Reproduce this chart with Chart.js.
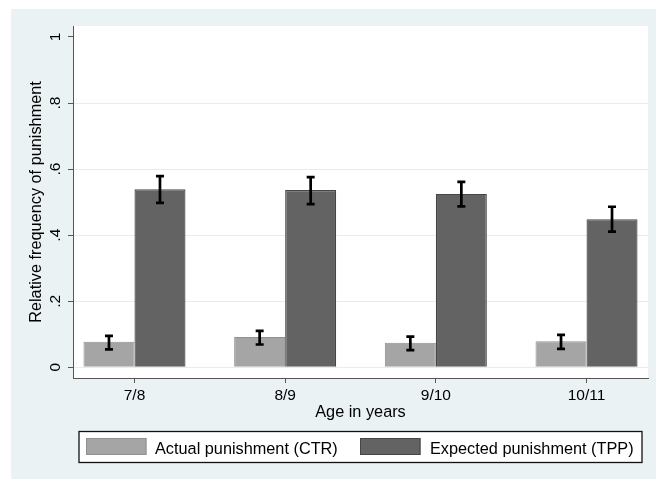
<!DOCTYPE html>
<html><head><meta charset="utf-8">
<script src="https://cdn.jsdelivr.net/npm/chart.js@4.4.0/dist/chart.umd.min.js"></script>
<style>html,body{margin:0;padding:0;background:#fff}#wrap{width:656px;height:479px;position:relative}</style>
</head><body><div id="wrap"><canvas id="c" width="656" height="479"></canvas></div>
<script>
const categories = ['7/8', '8/9', '9/10', '10/11'];
const yTicks = [0, 0.2, 0.4, 0.6, 0.8, 1];
const yTickLabels = ['0', '.2', '.4', '.6', '.8', '1'];
const seriesNames = ['Actual punishment (CTR)', 'Expected punishment (TPP)'];
const ctrValues = [0.077, 0.092, 0.074, 0.079];
const ctrLow = [0.054, 0.069, 0.052, 0.056];
const ctrHigh = [0.095, 0.110, 0.093, 0.098];
const tppValues = [0.539, 0.537, 0.525, 0.4485];
const tppLow = [0.498, 0.494, 0.487, 0.411];
const tppHigh = [0.579, 0.576, 0.5615, 0.486];

const FONT = "'Liberation Sans', Arial, sans-serif";
const lightFill = '#a5a5a5', lightBorder = '#909090';
const darkFill = '#636363', darkBorder = '#454545';

const bgPlugin = {
  id: 'bg',
  beforeDraw(chart) {
    const ctx = chart.ctx, a = chart.chartArea;
    ctx.save();
    ctx.fillStyle = '#eaf2f3';
    ctx.fillRect(11, 9, chart.width - 11, chart.height - 9);
    ctx.fillStyle = '#ffffff';
    ctx.fillRect(a.left, a.top, a.right - a.left, a.bottom - a.top);
    ctx.restore();
  }
};

const errPlugin = {
  id: 'errbars',
  afterDatasetsDraw(chart) {
    const ctx = chart.ctx, ys = chart.scales.y;
    [[ctrLow, ctrHigh], [tppLow, tppHigh]].forEach((pair, di) => {
      const meta = chart.getDatasetMeta(di);
      meta.data.forEach((el, j) => {
        const x = el.x;
        const y0 = ys.getPixelForValue(pair[0][j]);
        const y1 = ys.getPixelForValue(pair[1][j]);
        ctx.save();
        ctx.strokeStyle = '#000';
        ctx.lineWidth = 2.7;
        ctx.lineCap = 'butt';
        ctx.beginPath();
        ctx.moveTo(x, y0); ctx.lineTo(x, y1);
        ctx.moveTo(x - 4, y0); ctx.lineTo(x + 4, y0);
        ctx.moveTo(x - 4, y1); ctx.lineTo(x + 4, y1);
        ctx.stroke();
        ctx.restore();
      });
    });
  }
};

const legendPlugin = {
  id: 'legendbox',
  afterDraw(chart) {
    const ctx = chart.ctx;
    ctx.save();
    ctx.fillStyle = '#fff';
    ctx.fillRect(79, 431.5, 563, 31);
    ctx.strokeStyle = '#111';
    ctx.lineWidth = 1.3;
    ctx.strokeRect(79, 431.5, 563, 31);
    const items = [
      {sx: 86, tx: 155, fill: lightFill, border: lightBorder, text: seriesNames[0]},
      {sx: 360, tx: 430, fill: darkFill, border: darkBorder, text: seriesNames[1]}
    ];
    items.forEach(it => {
      ctx.fillStyle = it.fill;
      ctx.fillRect(it.sx, 438, 60.5, 17);
      ctx.strokeStyle = it.border;
      ctx.lineWidth = 1;
      ctx.strokeRect(it.sx + 0.5, 438.5, 59.5, 16);
      ctx.fillStyle = '#000';
      ctx.font = '16.3px ' + FONT;
      ctx.textBaseline = 'alphabetic';
      ctx.textAlign = 'left';
      ctx.fillText(it.text, it.tx, 453.5);
    });
    ctx.restore();
  }
};

new Chart(document.getElementById('c'), {
  type: 'bar',
  data: {
    datasets: [
      {label: seriesNames[0], data: ctrValues.map((v, i) => ({x: i, y: v})),
       backgroundColor: lightFill, borderColor: lightBorder, borderWidth: 1,
       categoryPercentage: 0.677, barPercentage: 1},
      {label: seriesNames[1], data: tppValues.map((v, i) => ({x: i, y: v})),
       backgroundColor: darkFill, borderColor: darkBorder, borderWidth: 1.2,
       categoryPercentage: 0.677, barPercentage: 1}
    ]
  },
  options: {
    responsive: false,
    animation: false,
    devicePixelRatio: 1,
    layout: {padding: {left: 0, right: 8, top: 26, bottom: 0}},
    plugins: {legend: {display: false}, tooltip: {enabled: false}},
    scales: {
      x: {
        type: 'linear', min: -0.408, max: 3.408, offset: false,
        afterBuildTicks: s => { s.ticks = categories.map((c, i) => ({value: i})); },
        afterFit: s => { s.height = 101; },
        ticks: {callback: v => categories[v], font: {family: FONT, size: 15.5}, color: '#000',
                padding: 3, maxRotation: 0, minRotation: 0, autoSkip: false},
        grid: {display: true, offset: false, drawOnChartArea: false, drawTicks: true, tickLength: 5,
               tickColor: '#555', tickWidth: 1},
        border: {display: true, color: '#555', width: 1},
        title: {display: true, text: 'Age in years', font: {family: FONT, size: 16.3}, color: '#000',
                padding: {top: 0, bottom: 57}}
      },
      y: {
        type: 'linear', min: -0.0324, max: 1.0333,
        afterBuildTicks: s => { s.ticks = yTicks.map(v => ({value: v})); },
        afterFit: s => { s.width = 73; },
        ticks: {callback: v => yTickLabels[yTicks.indexOf(v)], minRotation: 90, maxRotation: 90,
                crossAlign: 'center', padding: 5.5, font: {family: FONT, size: 15.5}, color: '#000'},
        grid: {color: c => (c.tick && c.tick.value === 1) ? 'rgba(0,0,0,0)' : '#e4eeee', lineWidth: 1,
               tickColor: '#555', tickLength: 5, drawTicks: true},
        border: {display: true, color: '#555', width: 1},
        title: {display: true, text: 'Relative frequency of punishment', font: {family: FONT, size: 16.3},
                color: '#000', padding: {top: 27, bottom: 0}}
      }
    }
  },
  plugins: [bgPlugin, errPlugin, legendPlugin]
});
</script>
</body></html>
